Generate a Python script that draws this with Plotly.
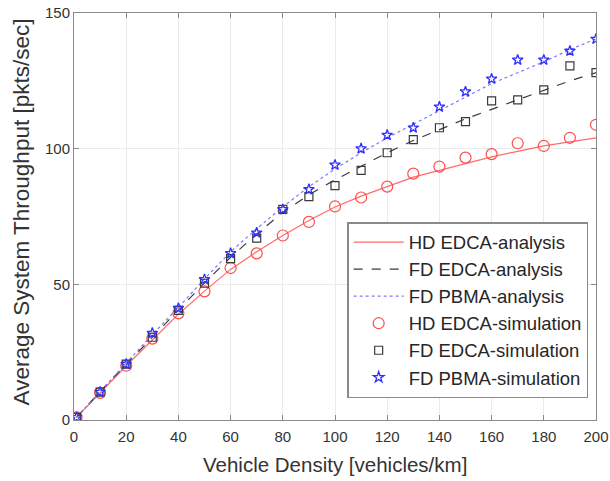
import plotly.graph_objects as go

density = [1, 10, 20, 30, 40, 50, 60, 70, 80, 90, 100, 110, 120, 130, 140, 150, 160, 170, 180, 190, 200]

hd_edca_analysis = [1, 10, 20, 29.5, 39, 47.5, 55.5, 62, 68, 73.5, 78.5, 82.5, 86, 89.5, 92, 94.5, 97, 99, 101, 102.5, 104]
fd_edca_analysis = [1, 10.5, 20.5, 30.5, 40.5, 50.5, 60, 68.5, 76.5, 83, 88.5, 93.5, 98.5, 103, 107, 111, 114.5, 118, 121.5, 125, 128]
fd_pbma_analysis = [1, 10.5, 21, 31.5, 41.5, 52, 62, 70.5, 78.5, 86, 92.5, 98.5, 104, 109, 114, 119, 124, 128, 132, 136.5, 140.5]

hd_edca_sim = [1, 10, 20, 30, 39.3, 47.4, 56, 61.4, 68, 73, 78.7, 82, 86, 90.8, 93.4, 96.7, 98, 102, 101, 104, 108.8]
fd_edca_sim = [1, 10.3, 20.6, 30.5, 40.4, 50.4, 59.5, 67, 77.6, 82.3, 86.4, 92, 98.5, 103.3, 107.7, 110, 117.6, 118, 121.7, 130.5, 128]
fd_pbma_sim = [1, 10.3, 20.6, 32, 41.2, 51.8, 61.4, 69, 77.6, 85, 94, 100, 105, 107.7, 115.4, 121, 125.7, 132.7, 132.7, 136, 140.4]

x_ticks = [0, 20, 40, 60, 80, 100, 120, 140, 160, 180, 200]
y_ticks = [0, 50, 100, 150]

x_title = "Vehicle Density [vehicles/km]"
y_title = "Average System Throughput [pkts/sec]"

RED = "#ff4d4d"
BLACK = "#3a3a3a"
BLUE = "#2f2fff"
FONT = "Liberation Sans, Arial"

fig = go.Figure()
fig.add_trace(go.Scatter(x=density, y=hd_edca_analysis, mode="lines", name="HD EDCA-analysis",
                         line=dict(color="#ff6b6b", width=1.2)))
fig.add_trace(go.Scatter(x=density, y=fd_edca_analysis, mode="lines", name="FD EDCA-analysis",
                         line=dict(color=BLACK, width=1.2, dash="dash")))
fig.add_trace(go.Scatter(x=density, y=fd_pbma_analysis, mode="lines", name="FD PBMA-analysis",
                         line=dict(color="#7a7aff", width=1.2, dash="dot")))
fig.add_trace(go.Scatter(x=density, y=hd_edca_sim, mode="markers", name="HD EDCA-simulation",
                         marker=dict(symbol="circle-open", size=11, color=RED, line=dict(width=1.2))))
fig.add_trace(go.Scatter(x=density, y=fd_edca_sim, mode="markers", name="FD EDCA-simulation",
                         marker=dict(symbol="square-open", size=8, color=BLACK, line=dict(width=1.2))))
fig.add_trace(go.Scatter(x=density, y=fd_pbma_sim, mode="markers", name="FD PBMA-simulation",
                         marker=dict(symbol="star-open", size=8, color=BLUE, line=dict(width=1.3))))

axis_common = dict(
    showline=True, linecolor="#8a8a8a", linewidth=1, mirror="ticks",
    ticks="inside", ticklen=5, tickcolor="#8a8a8a",
    showgrid=True, gridcolor="#ebebeb", gridwidth=1,
    zeroline=False, automargin=False,
    tickfont=dict(family=FONT, size=15, color="#333333"),
)

fig.update_layout(
    width=610, height=481,
    margin=dict(l=74, r=14, t=13, b=61),
    paper_bgcolor="white", plot_bgcolor="white",
    font=dict(family=FONT, color="#333333"),
    xaxis=dict(range=[0, 200], tickvals=x_ticks, ticklabelstandoff=3, **axis_common),
    yaxis=dict(range=[0, 150], tickvals=y_ticks, **axis_common),
    legend=dict(x=0.985, y=0.054, xanchor="right", yanchor="bottom",
                bgcolor="white", bordercolor="#8a8a8a", borderwidth=1.5,
                font=dict(family=FONT, size=18.5, color="#262626"),
                tracegroupgap=0, itemwidth=50),
    showlegend=True,
    annotations=[
        dict(text=x_title, xref="paper", yref="paper", x=0.5, y=0, yshift=-44,
             xanchor="center", yanchor="middle", showarrow=False,
             font=dict(family=FONT, size=20.5, color="#333333")),
        dict(text=y_title, xref="paper", yref="paper", x=0, y=0.51, xshift=-53,
             xanchor="center", yanchor="middle", textangle=-90, showarrow=False,
             font=dict(family=FONT, size=22.5, color="#333333")),
    ],
)

fig.write_html("out.html")
